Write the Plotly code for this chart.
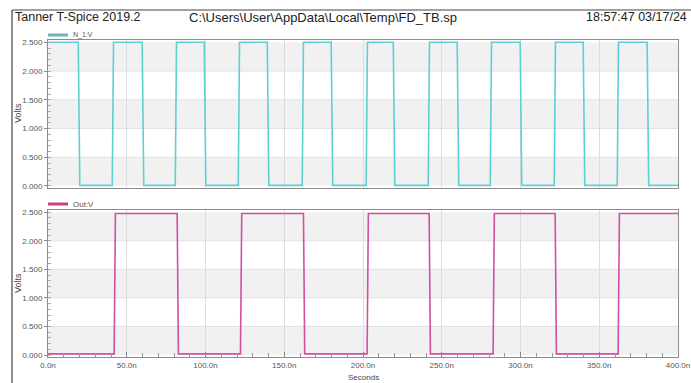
import plotly.graph_objects as go

# ---- data (time in ns, voltage in V) ----
n1_time = [0, 19.2, 20.2, 40.8, 41.6, 59.8, 60.8, 80.8, 81.6, 99.2, 100.2, 120.8, 121.6,
           139.2, 140.2, 161.4, 162.2, 179.8, 180.8, 202.0, 202.8, 219.2, 220.2, 241.4, 242.2,
           259.8, 260.8, 280.8, 281.6, 299.8, 300.8, 321.4, 322.2, 339.8, 340.8, 361.4, 362.2,
           380.4, 381.4, 400]
n1_volts = [2.50, 2.50, 0.01, 0.01, 2.50, 2.50, 0.01, 0.01, 2.50, 2.50, 0.01, 0.01, 2.50,
            2.50, 0.01, 0.01, 2.50, 2.50, 0.01, 0.01, 2.50, 2.50, 0.01, 0.01, 2.50,
            2.50, 0.01, 0.01, 2.50, 2.50, 0.01, 0.01, 2.50, 2.50, 0.01, 0.01, 2.50,
            2.50, 0.01, 0.01]

out_time = [0, 42.0, 42.8, 82.0, 82.8, 122.2, 123.0, 162.2, 163.0, 202.6, 203.4,
            242.0, 242.8, 282.6, 283.4, 322.0, 322.8, 362.0, 362.8, 400]
out_volts = [0.02, 0.02, 2.48, 2.48, 0.02, 0.02, 2.48, 2.48, 0.02, 0.02, 2.48,
             2.48, 0.02, 0.02, 2.48, 2.48, 0.02, 0.02, 2.48, 2.48]

x_tickvals = [0, 50, 100, 150, 200, 250, 300, 350, 400]
x_ticktext = ["0.0n", "50.0n", "100.0n", "150.0n", "200.0n", "250.0n", "300.0n", "350.0n", "400.0n"]
y_tickvals = [0, 0.5, 1.0, 1.5, 2.0, 2.5]
y_ticktext = ["0.000", "0.500", "1.000", "1.500", "2.000", "2.500"]
band_edges = [(2.0, 2.5), (1.0, 1.5), (0.0, 0.5)]

W, H = 691, 383
def px(x): return x / W
def py(y): return 1 - y / H

CYAN = "#5fcfd4"
MAG = "#d24fa3"
FONT = "Liberation Sans, Arial, sans-serif"

fig = go.Figure()
fig.add_trace(go.Scatter(x=n1_time, y=n1_volts, mode="lines", line=dict(color=CYAN, width=1.6),
                         xaxis="x", yaxis="y", showlegend=False))
fig.add_trace(go.Scatter(x=out_time, y=out_volts, mode="lines", line=dict(color=MAG, width=1.6),
                         xaxis="x2", yaxis="y2", showlegend=False))

xdom = [px(48), px(678)]
yrange = [-0.035, 2.54]
common_y = dict(range=yrange, tickvals=y_tickvals, ticktext=y_ticktext, ticks="outside",
                ticklen=3, tickcolor="#888", showline=True, linecolor="#8c8c8c", mirror=True,
                linewidth=1, showgrid=False, zeroline=False, fixedrange=True, automargin=False,
                tickfont=dict(family=FONT, size=8, color="#555"),
                minor=dict(ticks="inside", ticklen=3, dtick=0.1, tickcolor="#aaa", showgrid=False))
common_x = dict(range=[0, 400], tickvals=x_tickvals, ticktext=x_ticktext, showline=True,
                linecolor="#8c8c8c", mirror=True, linewidth=1, showgrid=True, automargin=False,
                gridcolor="#dcdcdc", gridwidth=1, zeroline=False, fixedrange=True,
                tickfont=dict(family=FONT, size=8, color="#555"))

fig.update_layout(
    width=W, height=H, margin=dict(l=0, r=0, t=0, b=0, autoexpand=False),
    paper_bgcolor="white", plot_bgcolor="white",
    xaxis=dict(domain=xdom, anchor="y", showticklabels=False, ticks="", **common_x),
    yaxis=dict(domain=[py(188), py(40)], anchor="x", **common_y),
    xaxis2=dict(domain=xdom, anchor="y2", ticks="inside", ticklen=5, tickcolor="#888",
                minor=dict(ticks="inside", ticklen=4, dtick=10, tickcolor="#999", showgrid=False),
                **common_x),
    yaxis2=dict(domain=[py(357), py(210)], anchor="x2", **common_y),
)

shapes = []
for yref in ["y", "y2"]:
    xr = "x domain" if yref == "y" else "x2 domain"
    for lo, hi in band_edges:
        shapes.append(dict(type="rect", xref=xr, yref=yref, x0=0, x1=1, y0=lo, y1=hi,
                           fillcolor="#f1f1f1", line=dict(width=0), layer="below"))
    for v in [0.5, 1.0, 1.5, 2.0]:
        shapes.append(dict(type="line", xref=xr, yref=yref, x0=0, x1=1, y0=v, y1=v,
                           line=dict(color="#e2e2e2", width=1), layer="below"))
# window border
shapes.append(dict(type="line", xref="paper", yref="paper", x0=px(12), x1=1, y0=py(10), y1=py(10),
                   line=dict(color="#444", width=1.2)))
shapes.append(dict(type="line", xref="paper", yref="paper", x0=px(12), x1=px(12), y0=0, y1=py(10),
                   line=dict(color="#444", width=1.2)))
# legend swatches
shapes.append(dict(type="line", xref="paper", yref="paper", x0=px(48), x1=px(68), y0=py(35), y1=py(35),
                   line=dict(color="#6fb5b8", width=3)))
shapes.append(dict(type="line", xref="paper", yref="paper", x0=px(48), x1=px(68), y0=py(204), y1=py(204),
                   line=dict(color="#c24382", width=3)))
fig.update_layout(shapes=shapes)

ann = [
    dict(text="Tanner T-Spice 2019.2", x=px(13), y=py(17), xanchor="left", yanchor="middle",
         font=dict(family=FONT, size=12.5, color="#222")),
    dict(text="C:\\Users\\User\\AppData\\Local\\Temp\\FD_TB.sp", x=px(187), y=py(17), xanchor="left",
         yanchor="middle", font=dict(family=FONT, size=13, color="#222")),
    dict(text="18:57:47 03/17/24", x=px(689), y=py(17), xanchor="right", yanchor="middle",
         font=dict(family=FONT, size=12.5, color="#222")),
    dict(text="N_1:V", x=px(71), y=py(35), xanchor="left", yanchor="middle",
         font=dict(family=FONT, size=7, color="#555")),
    dict(text="Out:V", x=px(71), y=py(204), xanchor="left", yanchor="middle",
         font=dict(family=FONT, size=8, color="#555")),
    dict(text="Volts", x=px(18), y=py(113), textangle=-90, xanchor="center", yanchor="middle",
         font=dict(family=FONT, size=9, color="#444")),
    dict(text="Volts", x=px(18), y=py(283), textangle=-90, xanchor="center", yanchor="middle",
         font=dict(family=FONT, size=9, color="#444")),
    dict(text="Seconds", x=px(363), y=py(377.5), xanchor="center", yanchor="middle",
         font=dict(family=FONT, size=8, color="#444")),
]
for a in ann:
    a.update(xref="paper", yref="paper", showarrow=False)
fig.update_layout(annotations=ann)

fig.write_html("out.html", config={"displayModeBar": False},
               post_script="document.body.style.margin='0px';document.body.style.overflow='hidden';")
